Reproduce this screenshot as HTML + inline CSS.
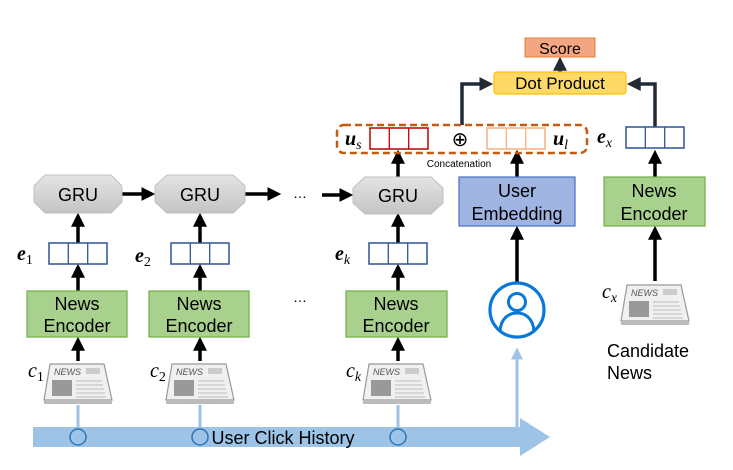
<!DOCTYPE html>
<html><head><meta charset="utf-8"><style>
html,body{margin:0;padding:0;background:#fff;}
svg{display:block;}
text{font-family:"Liberation Sans",sans-serif;}
.m{font-family:"Liberation Serif",serif;font-style:italic;font-weight:bold;}
.mi{font-family:"Liberation Serif",serif;font-style:italic;}
</style></head><body>
<svg width="733" height="470" viewBox="0 0 733 470" xmlns="http://www.w3.org/2000/svg">
<defs>
<marker id="ah" markerWidth="4" markerHeight="4" refX="2.5" refY="2" orient="auto" markerUnits="strokeWidth"><path d="M0,0 L4,2 L0,4 z" fill="#000"/></marker>
<marker id="ahd" markerWidth="4" markerHeight="4" refX="2.5" refY="2" orient="auto" markerUnits="strokeWidth"><path d="M0,0 L4,2 L0,4 z" fill="#222a35"/></marker>
<marker id="ahb" markerWidth="4" markerHeight="4" refX="2.5" refY="2" orient="auto" markerUnits="strokeWidth"><path d="M0,0 L4,2 L0,4 z" fill="#9dc3e6"/></marker>
<linearGradient id="gg" x1="0" y1="0" x2="0" y2="1"><stop offset="0" stop-color="#e4e4e4"/><stop offset="1" stop-color="#c4c4c4"/></linearGradient>
<g id="news">
<path d="M6,2 L60,2 L68,38 L0,38 Z" fill="#f0f0f0" stroke="#999" stroke-width="1.2"/>
<path d="M0,38 L68,38 L68,42 L0,42 Z" fill="#bbb"/>
<text x="10" y="13" font-family="Liberation Serif" font-size="9" font-style="italic" fill="#555">NEWS</text>
<rect x="42" y="6" width="14" height="6" fill="#ccc"/>
<rect x="8" y="18" width="20" height="16" fill="#999"/>
<g stroke="#bbb" stroke-width="1"><line x1="32" y1="19" x2="58" y2="19"/><line x1="32" y1="23" x2="59" y2="23"/><line x1="32" y1="27" x2="60" y2="27"/><line x1="32" y1="31" x2="61" y2="31"/><line x1="32" y1="35" x2="62" y2="35"/></g>
</g>
<g id="vec3"><rect x="0" y="0" width="58" height="21" fill="#fff"/><line x1="19.3" y1="0" x2="19.3" y2="21"/><line x1="38.7" y1="0" x2="38.7" y2="21"/><rect x="0" y="0" width="58" height="21" fill="none"/></g>
</defs>

<!-- bottom band -->
<path d="M33,427 L520,427 L520,418 L550,437 L520,456 L520,447 L33,447 Z" fill="#9dc3e6"/>
<g stroke="#9dc3e6" stroke-width="3">
<line x1="78" y1="405" x2="78" y2="428"/><line x1="200" y1="405" x2="200" y2="428"/><line x1="398" y1="405" x2="398" y2="428"/>
</g>
<line x1="517" y1="428" x2="517" y2="352" stroke="#9dc3e6" stroke-width="3" marker-end="url(#ahb)"/>
<g fill="none" stroke="#2e75b6" stroke-width="1.5">
<circle cx="78" cy="437" r="8"/><circle cx="200" cy="437" r="8"/><circle cx="398" cy="437" r="8"/>
</g>
<text x="283" y="444" font-size="18" text-anchor="middle" fill="#000">User Click History</text>

<!-- newspapers -->
<use href="#news" x="44" y="362"/><use href="#news" x="166" y="362"/><use href="#news" x="363" y="362"/><use href="#news" x="621" y="283"/>
<text class="mi" x="28" y="377" font-size="20">c<tspan font-size="14" dy="4" font-style="normal">1</tspan></text>
<text class="mi" x="150" y="377" font-size="20">c<tspan font-size="14" dy="4" font-style="normal">2</tspan></text>
<text class="mi" x="346" y="377" font-size="20">c<tspan font-size="14" dy="4">k</tspan></text>
<text class="mi" x="602" y="298" font-size="20">c<tspan font-size="14" dy="4">x</tspan></text>

<!-- arrows black -->
<g stroke="#000" stroke-width="3.5" fill="none" marker-end="url(#ah)">
<line x1="78" y1="361" x2="78" y2="342"/><line x1="200" y1="361" x2="200" y2="342"/><line x1="398" y1="361" x2="398" y2="342"/>
<line x1="78" y1="291" x2="78" y2="269"/><line x1="200" y1="291" x2="200" y2="269"/><line x1="398" y1="291" x2="398" y2="269"/>
<line x1="78" y1="243" x2="78" y2="218"/><line x1="200" y1="243" x2="200" y2="218"/><line x1="398" y1="243" x2="398" y2="218"/>
<line x1="122" y1="194" x2="150" y2="194"/><line x1="245" y1="194" x2="276" y2="194"/><line x1="322" y1="195" x2="348" y2="195"/>
<line x1="398" y1="177" x2="398" y2="155"/><line x1="517" y1="177" x2="517" y2="155"/>
<line x1="517" y1="282" x2="517" y2="231"/>
<line x1="655" y1="281" x2="655" y2="231"/><line x1="655" y1="177" x2="655" y2="155"/>
</g>
<g stroke="#222a35" stroke-width="3.5" fill="none" marker-end="url(#ahd)">
<path d="M462,125 L462,84 L488,84"/><path d="M655,127 L655,84 L632,84"/><line x1="560" y1="72" x2="560" y2="62"/>
</g>

<!-- News encoders -->
<g fill="#a9d18e" stroke="#70ad47" stroke-width="1.2">
<rect x="27" y="291" width="100" height="46"/><rect x="149" y="291" width="100" height="46"/><rect x="346" y="291" width="101" height="46"/><rect x="604" y="177" width="101" height="49"/>
</g>
<g font-size="18" text-anchor="middle" fill="#000">
<text x="77" y="310">News</text><text x="77" y="332">Encoder</text>
<text x="199" y="310">News</text><text x="199" y="332">Encoder</text>
<text x="396" y="310">News</text><text x="396" y="332">Encoder</text>
<text x="654" y="197">News</text><text x="654" y="220">Encoder</text>
</g>

<!-- e vectors -->
<g stroke="#2f5597" stroke-width="1.3"><use href="#vec3" x="49" y="243"/><use href="#vec3" x="171" y="243"/><use href="#vec3" x="369" y="243"/><use href="#vec3" x="626" y="127"/></g>
<text class="m" x="17" y="260" font-size="20">e<tspan font-size="14" dy="4" font-weight="normal" font-style="normal">1</tspan></text>
<text class="m" x="135" y="262" font-size="20">e<tspan font-size="14" dy="4" font-weight="normal" font-style="normal">2</tspan></text>
<text class="m" x="335" y="260" font-size="20">e<tspan font-size="14" dy="4" font-weight="normal">k</tspan></text>
<text class="m" x="597" y="143" font-size="20">e<tspan font-size="14" dy="4" font-weight="normal">x</tspan></text>

<!-- GRUs -->
<g fill="url(#gg)" stroke="#bfbfbf" stroke-width="1">
<path d="M45,175 L111,175 L122,186 L122,202 L111,213 L45,213 L34,202 L34,186 Z"/>
<path d="M167,175 L233,175 L245,186 L245,202 L233,213 L167,213 L155,202 L155,186 Z"/>
<path d="M365,177 L431,177 L443,188 L443,203 L431,214 L365,214 L353,203 L353,188 Z"/>
</g>
<g font-size="18" text-anchor="middle"><text x="78" y="201">GRU</text><text x="200" y="201">GRU</text><text x="398" y="202">GRU</text></g>
<text x="300" y="198" font-size="14" text-anchor="middle">…</text>
<text x="300" y="302" font-size="14" text-anchor="middle">…</text>

<!-- User embedding -->
<rect x="459" y="177" width="116" height="49" fill="#9fb4e0" stroke="#4472c4" stroke-width="1.2"/>
<text x="517" y="197" font-size="18" text-anchor="middle">User</text>
<text x="517" y="220" font-size="18" text-anchor="middle">Embedding</text>

<!-- user icon -->
<circle cx="517" cy="310" r="27" fill="#fff" stroke="#0a78d7" stroke-width="3.2"/>
<circle cx="517" cy="302" r="8.5" fill="none" stroke="#0a78d7" stroke-width="3"/>
<path d="M500,331 C501,318 509,313 517,313 C525,313 533,318 534,331" fill="none" stroke="#0a78d7" stroke-width="3"/>

<!-- concat -->
<rect x="337" y="125" width="250" height="28" rx="7" fill="none" stroke="#c55a11" stroke-width="2.5" stroke-dasharray="7,4"/>
<g stroke="#c00000" stroke-width="1.3"><use href="#vec3" x="370" y="128"/></g>
<g stroke="#f4b183" stroke-width="1.3"><use href="#vec3" x="487" y="128"/></g>
<text class="m" x="345" y="145" font-size="20">u<tspan font-size="14" dy="4" font-weight="normal">s</tspan></text>
<text class="m" x="553" y="145" font-size="20">u<tspan font-size="14" dy="4" font-weight="normal">l</tspan></text>
<text x="460" y="146" font-size="20" text-anchor="middle" font-family="DejaVu Sans">⊕</text>
<text x="459" y="167" font-size="10" text-anchor="middle">Concatenation</text>

<!-- dot product, score -->
<rect x="494" y="72" width="132" height="22" rx="3" fill="#ffd966" stroke="#ffc000" stroke-width="1.2"/>
<text x="560" y="89" font-size="17" text-anchor="middle">Dot Product</text>
<rect x="525" y="38" width="70" height="19" fill="#f4a582" stroke="#ed7d31" stroke-width="1"/>
<text x="560" y="54" font-size="16" text-anchor="middle">Score</text>

<text x="607" y="357" font-size="18">Candidate</text>
<text x="607" y="379" font-size="18">News</text>
</svg>
</body></html>
